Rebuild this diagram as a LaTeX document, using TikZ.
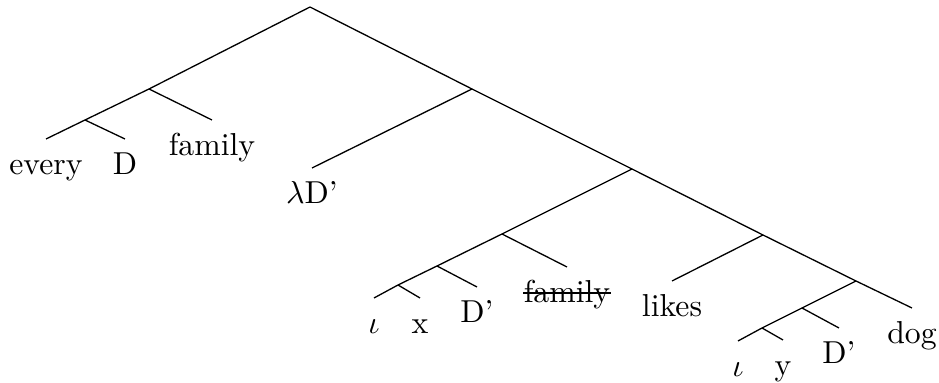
\documentclass[tikz,border=0pt]{standalone}
\usepackage{tikz}
\usetikzlibrary{positioning}

\begin{document}
\begin{tikzpicture}[
  x=0.345pt,y=-0.345pt,
  every node/.style={font=\fontsize{10.95}{13.6}\selectfont},
  leaf/.style={anchor=north,inner sep=0pt,text height=12pt,text depth=3pt},
  branch/.style={line width=0.45pt,black}
]
\useasboundingbox (0,0) rectangle (939,383);
% inner points of the tree
\coordinate (root) at (310,7);
\coordinate (qp) at (149,89);
\coordinate (every-d) at (85,120);
\coordinate (lam) at (472,89);
\coordinate (vp) at (632,169);
\coordinate (obj) at (502,234);
\coordinate (iota-x) at (437,266);
\coordinate (ix) at (398,285);
\coordinate (likes-dp) at (763,235);
\coordinate (dp) at (856,281);
\coordinate (iota-y) at (802,308);
\coordinate (iy) at (762,328);
% leaves
\node[leaf] (every) at (46,139) {every};
\node[leaf] (d) at (125,139) {D};
\node[leaf] (family) at (212,120) {family};
\node[leaf] (lambda) at (312,168) {$\lambda$D'};
\node[leaf] (iota1) at (374,298) {$\iota$};
\node[leaf] (x) at (420,298) {x};
\node[leaf] (d1) at (477,287) {D'};
\node[leaf] (family2) at (567,267) {family};
\node[leaf] (likes) at (672,281) {likes};
\node[leaf] (iota2) at (738,341) {$\iota$};
\node[leaf] (y) at (783,340) {y};
\node[leaf] (d2) at (839,328) {D'};
\node[leaf] (dog) at (912,308) {dog};
% struck out copy
\draw[branch] ([yshift=3.2pt]family2.base west) -- ([yshift=3.2pt]family2.base east);
% branches
\draw[branch] (root) -- (qp); \draw[branch] (root) -- (lam);
\draw[branch] (qp) -- (every-d); \draw[branch] (qp) -- (family.north);
\draw[branch] (every-d) -- (every.north); \draw[branch] (every-d) -- (d.north);
\draw[branch] (lam) -- (lambda.north); \draw[branch] (lam) -- (vp);
\draw[branch] (vp) -- (obj); \draw[branch] (vp) -- (likes-dp);
\draw[branch] (obj) -- (iota-x); \draw[branch] (obj) -- (family2.north);
\draw[branch] (iota-x) -- (ix); \draw[branch] (iota-x) -- (d1.north);
\draw[branch] (ix) -- (iota1.north); \draw[branch] (ix) -- (x.north);
\draw[branch] (likes-dp) -- (likes.north); \draw[branch] (likes-dp) -- (dp);
\draw[branch] (dp) -- (iota-y); \draw[branch] (dp) -- (dog.north);
\draw[branch] (iota-y) -- (iy); \draw[branch] (iota-y) -- (d2.north);
\draw[branch] (iy) -- (iota2.north); \draw[branch] (iy) -- (y.north);
\end{tikzpicture}
\end{document}
